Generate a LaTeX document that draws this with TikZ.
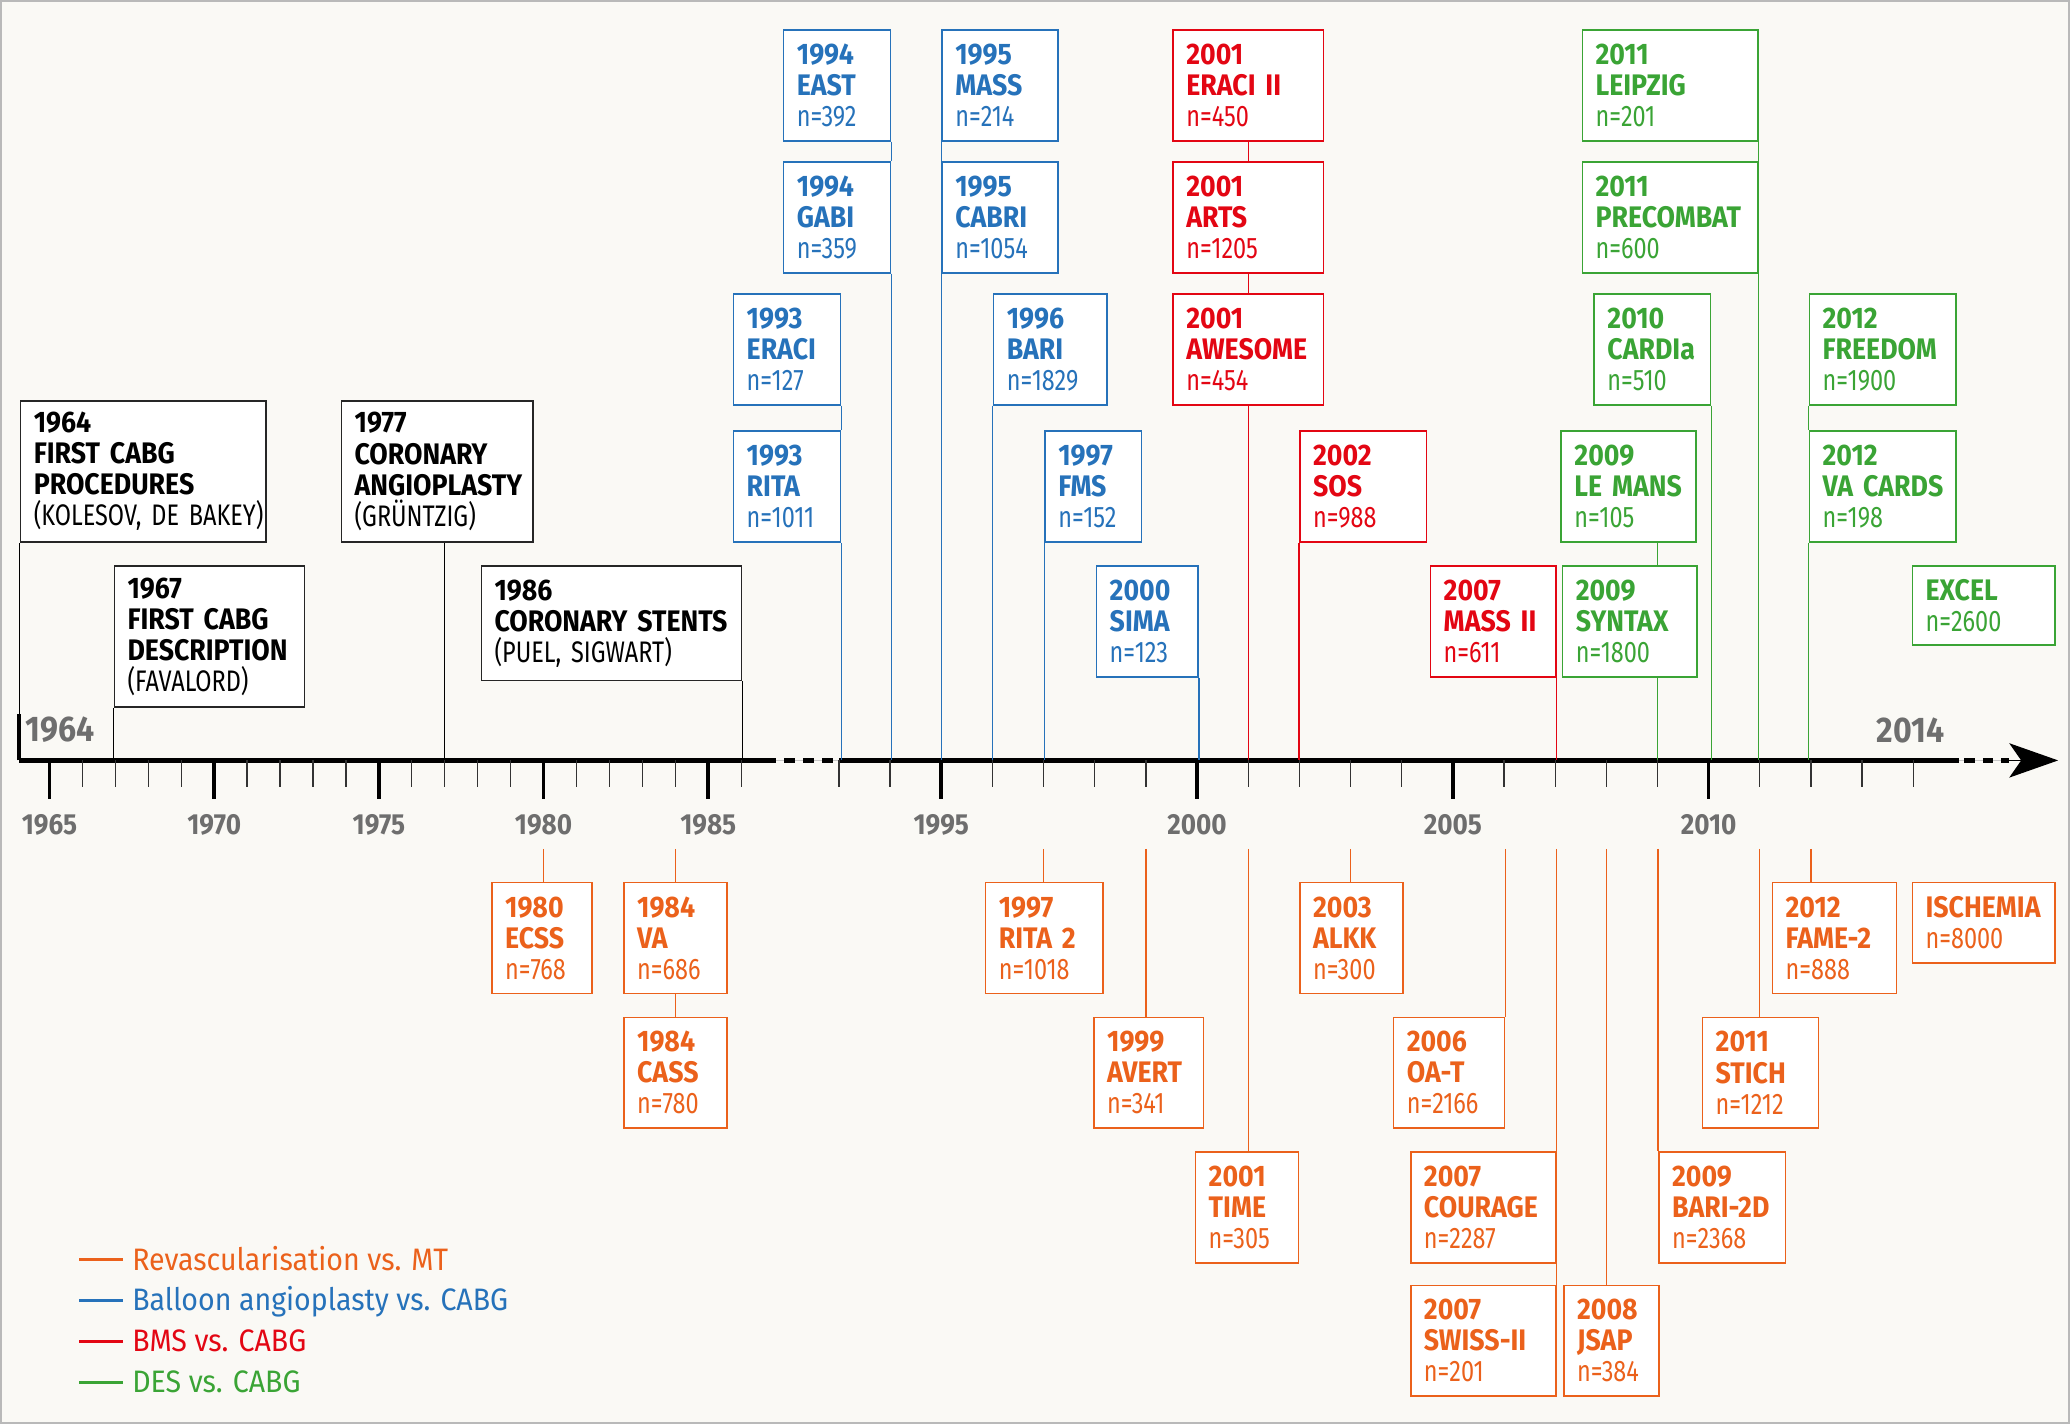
\documentclass[tikz,border=0pt]{standalone}
\usepackage{fontspec}
\setmainfont{Fira Sans}
\newfontfamily\condfont{Fira Sans}[FakeStretch=0.79]
\newfontfamily\boldcond{Fira Sans}[FakeStretch=0.9]
\newfontfamily\legfont{Fira Sans}[FakeStretch=0.92]
\usetikzlibrary{arrows.meta}

\definecolor{orng}{RGB}{235,97,27}
\definecolor{blu}{RGB}{38,114,186}
\definecolor{rd}{RGB}{227,6,19}
\definecolor{grn}{RGB}{58,164,53}
\definecolor{bgc}{RGB}{250,249,245}
\definecolor{tickgray}{RGB}{110,110,110}

\newcommand{\hd}[1]{{\boldcond\bfseries #1}}

\tikzset{
  box/.style={draw, fill=white, line width=1.2pt, anchor=north west, align=left,
    inner xsep=10pt, inner ysep=0pt, minimum height=84pt,
    font=\condfont\fontsize{22.5}{23.5}\selectfont},
  blackbox/.style={box, draw=black!85, text=black, minimum height=107pt},
  bluebox/.style={box, draw=blu, text=blu},
  redbox/.style={box, draw=rd, text=rd},
  greenbox/.style={box, draw=grn, text=grn},
  orangebox/.style={box, draw=orng, text=orng},
  link/.style={line width=1pt},
  axisline/.style={line width=3.5pt},
  minortick/.style={line width=1pt, black!80},
  majortick/.style={line width=2.8pt},
  yearlbl/.style={text=tickgray, inner sep=0pt,
    font=\boldcond\bfseries\fontsize{22}{24}\selectfont},
  endlbl/.style={yearlbl, font=\boldcond\bfseries\fontsize{27}{29}\selectfont},
  legendtxt/.style={anchor=base west, inner sep=0pt,
    font=\legfont\fontsize{23.5}{26}\selectfont}
}

\begin{document}
\begin{tikzpicture}[x=1pt, y=-1pt]
  \fill[bgc] (0,0) rectangle (1568,1079);
  \useasboundingbox (0,0) rectangle (1568,1079);

  \coordinate (t1964) at (14.5,576);
  \foreach \yr in {1965,...,1986}
    \coordinate (t\yr) at ({37.5+(\yr-1965)*24.95},576);
  \foreach \yr in {1993,...,2014}
    \coordinate (t\yr) at ({713+(\yr-1995)*38.75},576);
  \coordinate (low) at (0,643);
  \coordinate (gapA) at (588,576);
  \coordinate (gapB) at (1484,576);
  \coordinate (tip) at (1559,576);

  % time axis
  \draw[axisline] (t1964) -- (gapA);
  \draw[gray!45, line width=0.7pt] (gapA) -- (t1993);
  \draw[axisline, dash pattern=on 8pt off 6.5pt] ([xshift=6pt]gapA) -- ([xshift=-3pt]t1993);
  \draw[axisline] (t1993) -- (gapB);
  \draw[gray!45, line width=0.7pt] (gapB) -- ([xshift=-36pt]tip);
  \draw[axisline, dash pattern=on 8pt off 6pt] ([xshift=4pt]gapB) -- ([xshift=-37pt]tip);
  \draw[line width=1pt, -{Stealth[length=37pt, width=26pt, inset=9pt]}] ([xshift=-38pt]tip) -- (tip);
  \draw[line width=3pt] (t1964) -- ++(0,-35);

  \foreach \yr in {1966,...,1986}
    \draw[minortick] (t\yr) -- ++(0,20);
  \foreach \yr in {1993,...,2014}
    \draw[minortick] (t\yr) -- ++(0,20);
  \foreach \yr in {1965,1970,1975,1980,1985,1995,2000,2005,2010} {
    \draw[majortick] (t\yr) -- ++(0,29);
    \node[yearlbl] (lbl\yr) at ([yshift=-49pt]t\yr) {\yr};
  }
  \node[endlbl, anchor=west] (first) at (19,553) {1964};
  \node[endlbl] (last) at (1447,553) {2014};

  % milestones
  \node[blackbox, text width=166pt] (cabgA) at (15,303) {\hd{1964}\\\hd{FIRST~CABG}\\\hd{PROCEDURES}\\(KOLESOV,~DE~BAKEY)};
  \node[blackbox, text width=124pt] (cabgB) at (86,428) {\hd{1967}\\\hd{FIRST~CABG}\\\hd{DESCRIPTION}\\(FAVALORD)};
  \node[blackbox, text width=125pt] (ptca) at (258,303) {\hd{1977}\\\hd{CORONARY}\\\hd{ANGIOPLASTY}\\(GRÜNTZIG)};
  \node[blackbox, text width=177pt, minimum height=87pt] (stents) at (364,428) {\hd{1986}\\\hd{CORONARY~STENTS}\\(PUEL,~SIGWART)};

  \draw[link] (cabgA.south west) -- (cabgA.south west |- t1964);
  \draw[link] (cabgB.south west) -- (cabgB.south west |- t1967);
  \draw[link] (t1977 |- ptca.south) -- (t1977);
  \draw[link] (stents.south east) -- (stents.south east |- t1986);

  % balloon angioplasty vs. CABG
  \node[bluebox, text width=61pt] (east) at (593,22) {\hd{1994}\\\hd{EAST}\\n=392};
  \node[bluebox, text width=61pt] (gabi) at (593,122) {\hd{1994}\\\hd{GABI}\\n=359};
  \node[bluebox, text width=61pt] (eraci) at (555,222) {\hd{1993}\\\hd{ERACI}\\n=127};
  \node[bluebox, text width=61pt] (rita) at (555,326) {\hd{1993}\\\hd{RITA}\\n=1011};
  \node[bluebox, text width=68pt] (mass) at (713,22) {\hd{1995}\\\hd{MASS}\\n=214};
  \node[bluebox, text width=68pt] (cabri) at (713,122) {\hd{1995}\\\hd{CABRI}\\n=1054};
  \node[bluebox, text width=66pt] (bari) at (752,222) {\hd{1996}\\\hd{BARI}\\n=1829};
  \node[bluebox, text width=53pt] (fms) at (791,326) {\hd{1997}\\\hd{FMS}\\n=152};
  \node[bluebox, text width=57pt] (sima) at (830,428) {\hd{2000}\\\hd{SIMA}\\n=123};

  \draw[link, blu] (east.south east) -- (gabi.north east);
  \draw[link, blu] (gabi.south east) -- (gabi.south east |- t1994);
  \draw[link, blu] (eraci.south east) -- (rita.north east);
  \draw[link, blu] (rita.south east) -- (rita.south east |- t1993);
  \draw[link, blu] (mass.south west) -- (cabri.north west);
  \draw[link, blu] (cabri.south west) -- (cabri.south west |- t1995);
  \draw[link, blu] (bari.south west) -- (bari.south west |- t1996);
  \draw[link, blu] (fms.south west) -- (fms.south west |- t1997);
  \draw[link, blu] (sima.south east) -- (sima.south east |- t2000);

  % BMS vs. CABG
  \node[redbox, text width=94pt] (eraciii) at (888,22) {\hd{2001}\\\hd{ERACI~II}\\n=450};
  \node[redbox, text width=94pt] (arts) at (888,122) {\hd{2001}\\\hd{ARTS}\\n=1205};
  \node[redbox, text width=94pt] (awesome) at (888,222) {\hd{2001}\\\hd{AWESOME}\\n=454};
  \node[redbox, text width=76pt] (sos) at (984,326) {\hd{2002}\\\hd{SOS}\\n=988};
  \node[redbox, text width=75pt] (massii) at (1083,428) {\hd{2007}\\\hd{MASS~II}\\n=611};

  \draw[link, rd] (eraciii.south) -- (arts.north);
  \draw[link, rd] (arts.south) -- (awesome.north);
  \draw[link, rd] (awesome.south) -- (awesome.south |- t2001);
  \draw[link, rd] (sos.south west) -- (sos.south west |- t2002);
  \draw[link, rd] (massii.south east) -- (massii.south east |- t2007);

  % DES vs. CABG
  \node[greenbox, text width=113pt] (leipzig) at (1198,22) {\hd{2011}\\\hd{LEIPZIG}\\n=201};
  \node[greenbox, text width=113pt] (precombat) at (1198,122) {\hd{2011}\\\hd{PRECOMBAT}\\n=600};
  \node[greenbox, text width=68pt] (cardia) at (1207,222) {\hd{2010}\\\hd{CARDIa}\\n=510};
  \node[greenbox, text width=82pt] (lemans) at (1182,326) {\hd{2009}\\\hd{LE~MANS}\\n=105};
  \node[greenbox, text width=82pt] (syntax) at (1183,428) {\hd{2009}\\\hd{SYNTAX}\\n=1800};
  \node[greenbox, text width=91pt] (freedom) at (1370,222) {\hd{2012}\\\hd{FREEDOM}\\n=1900};
  \node[greenbox, text width=91pt] (vacards) at (1370,326) {\hd{2012}\\\hd{VA~CARDS}\\n=198};
  \node[greenbox, text width=88pt, minimum height=60pt] (excel) at (1448,428) {\hd{EXCEL}\\n=2600};

  \draw[link, grn] (leipzig.south east) -- (precombat.north east);
  \draw[link, grn] (precombat.south east) -- (precombat.south east |- t2011);
  \draw[link, grn] (cardia.south east) -- (cardia.south east |- t2010);
  \draw[link, grn] (t2009 |- lemans.south) -- (t2009 |- syntax.north);
  \draw[link, grn] (t2009 |- syntax.south) -- (t2009);
  \draw[link, grn] (freedom.south west) -- (vacards.north west);
  \draw[link, grn] (vacards.south west) -- (vacards.south west |- t2012);

  % revascularisation vs. MT
  \node[orangebox, text width=56pt] (ecss) at (372,668) {\hd{1980}\\\hd{ECSS}\\n=768};
  \node[orangebox, text width=58pt] (va) at (472,668) {\hd{1984}\\\hd{VA}\\n=686};
  \node[orangebox, text width=58pt] (cass) at (472,770) {\hd{1984}\\\hd{CASS}\\n=780};
  \node[orangebox, text width=69pt] (rita2) at (746,668) {\hd{1997}\\\hd{RITA~2}\\n=1018};
  \node[orangebox, text width=63pt] (avert) at (828,770) {\hd{1999}\\\hd{AVERT}\\n=341};
  \node[orangebox, text width=58pt] (time) at (905,872) {\hd{2001}\\\hd{TIME}\\n=305};
  \node[orangebox, text width=58pt] (alkk) at (984,668) {\hd{2003}\\\hd{ALKK}\\n=300};
  \node[orangebox, text width=64pt] (oat) at (1055,770) {\hd{2006}\\\hd{OA-T}\\n=2166};
  \node[orangebox, text width=90pt] (courage) at (1068,872) {\hd{2007}\\\hd{COURAGE}\\n=2287};
  \node[orangebox, text width=90pt] (swiss) at (1068,973) {\hd{2007}\\\hd{SWISS-II}\\n=201};
  \node[orangebox, text width=52pt] (jsap) at (1184,973) {\hd{2008}\\\hd{JSAP}\\n=384};
  \node[orangebox, text width=76pt] (bari2d) at (1256,872) {\hd{2009}\\\hd{BARI-2D}\\n=2368};
  \node[orangebox, text width=68pt] (stich) at (1289,770) {\hd{2011}\\\hd{STICH}\\n=1212};
  \node[orangebox, text width=74pt] (fame) at (1342,668) {\hd{2012}\\\hd{FAME-2}\\n=888};
  \node[orangebox, text width=88pt, minimum height=61pt] (ischemia) at (1448,668) {\hd{ISCHEMIA}\\n=8000};

  \draw[link, orng] (t1980 |- low) -- (t1980 |- ecss.north);
  \draw[link, orng] (t1984 |- low) -- (t1984 |- va.north);
  \draw[link, orng] (va.south) -- (cass.north);
  \draw[link, orng] (t1997 |- low) -- (t1997 |- rita2.north);
  \draw[link, orng] (t1999 |- low) -- (t1999 |- avert.north);
  \draw[link, orng] (t2001 |- low) -- (t2001 |- time.north);
  \draw[link, orng] (t2003 |- low) -- (t2003 |- alkk.north);
  \draw[link, orng] (oat.north east |- low) -- (oat.north east);
  \draw[link, orng] (courage.north east |- low) -- (courage.north east);
  \draw[link, orng] (courage.south east) -- (swiss.north east);
  \draw[link, orng] (t2008 |- low) -- (t2008 |- jsap.north);
  \draw[link, orng] (bari2d.north west |- low) -- (bari2d.north west);
  \draw[link, orng] (t2011 |- low) -- (t2011 |- stich.north);
  \draw[link, orng] (t2012 |- low) -- (t2012 |- fame.north);

  % legend
  \node[legendtxt, text=orng] (lgrev) at (100,962) {Revascularisation vs. MT};
  \node[legendtxt, text=blu] (lgbal) at (100,993) {Balloon angioplasty vs. CABG};
  \node[legendtxt, text=rd] (lgbms) at (100,1024) {BMS vs. CABG};
  \node[legendtxt, text=grn] (lgdes) at (100,1055) {DES vs. CABG};
  \foreach \n/\c in {lgrev/orng, lgbal/blu, lgbms/rd, lgdes/grn}
    \draw[\c, line width=2.5pt] ([xshift=-40pt, yshift=8pt]\n.base west) -- ([xshift=-7pt, yshift=8pt]\n.base west);

  \draw[gray!55, line width=1.5pt] (0.75,0.75) rectangle (1567.25,1078.25);
\end{tikzpicture}
\end{document}
